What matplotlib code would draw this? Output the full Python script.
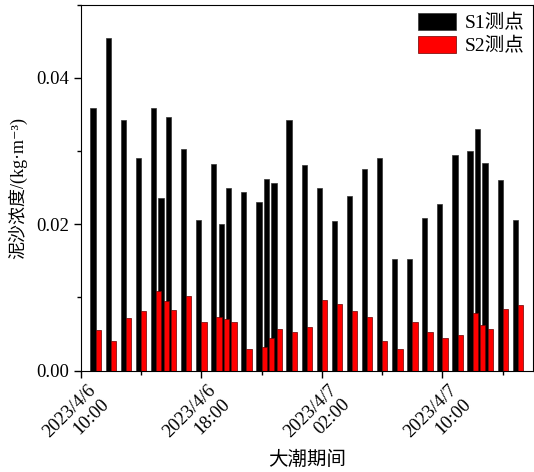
import pandas as pd
import numpy as np
import matplotlib
matplotlib.use('Agg')
import matplotlib.pyplot as plt
import matplotlib.dates as mdates
from matplotlib.ticker import MultipleLocator, FormatStrFormatter
from matplotlib.transforms import ScaledTranslation

plt.rcParams['font.family'] = ['Liberation Serif', 'Noto Sans CJK SC', 'DejaVu Serif']

# 采样时间
times = ['2023-04-06 11:00', '2023-04-06 12:00', '2023-04-06 13:00', '2023-04-06 14:00',
         '2023-04-06 15:00', '2023-04-06 15:30', '2023-04-06 16:00', '2023-04-06 17:00',
         '2023-04-06 18:00', '2023-04-06 19:00', '2023-04-06 19:30', '2023-04-06 20:00',
         '2023-04-06 21:00', '2023-04-06 22:00', '2023-04-06 22:30', '2023-04-06 23:00',
         '2023-04-07 00:00', '2023-04-07 01:00', '2023-04-07 02:00', '2023-04-07 03:00',
         '2023-04-07 04:00', '2023-04-07 05:00', '2023-04-07 06:00', '2023-04-07 07:00',
         '2023-04-07 08:00', '2023-04-07 09:00', '2023-04-07 10:00', '2023-04-07 11:00',
         '2023-04-07 12:00', '2023-04-07 12:30', '2023-04-07 13:00', '2023-04-07 14:00',
         '2023-04-07 15:00']

# S1 测点
s1 = [0.0359, 0.0454, 0.0342, 0.0290, 0.0359, 0.0236, 0.0346, 0.0303,
      0.0206, 0.0282, 0.0200, 0.0249, 0.0244, 0.0231, 0.0262, 0.0256,
      0.0342, 0.0281, 0.0250, 0.0204, 0.0238, 0.0276, 0.0290, 0.0153,
      0.0153, 0.0208, 0.0227, 0.0295, 0.0300, 0.0330, 0.0284, 0.0260,
      0.0206]

# S2 测点
s2 = [0.0055, 0.0041, 0.0072, 0.0081, 0.0109, 0.0095, 0.0083, 0.0102,
      0.0067, 0.0073, 0.0070, 0.0066, 0.0030, 0.0032, 0.0045, 0.0057,
      0.0052, 0.0059, 0.0096, 0.0091, 0.0082, 0.0073, 0.0040, 0.0030,
      0.0066, 0.0052, 0.0044, 0.0049, 0.0078, 0.0062, 0.0057, 0.0084,
      0.0090]

t = mdates.date2num(pd.to_datetime(times))
w = 0.35 / 24  # 柱宽 (天)

fig = plt.figure(figsize=(5.34, 4.72), dpi=100)
ax = fig.add_axes([0.151, 0.215, 0.847, 0.775])

ax.bar(t - w, s1, width=w, align='edge', color='black', edgecolor='#333333',
       linewidth=0.5, label='S1测点')
ax.bar(t, s2, width=w, align='edge', color='#ff0000', edgecolor='#6b0000',
       linewidth=0.5, label='S2测点')

ax.set_xlim(mdates.date2num(pd.Timestamp('2023-04-06 10:00')),
            mdates.date2num(pd.Timestamp('2023-04-07 16:00')))
ax.set_ylim(0, 0.05)

ax.xaxis.set_major_locator(mdates.HourLocator(byhour=[2, 10, 18]))
ax.xaxis.set_minor_locator(mdates.HourLocator(byhour=[6, 14, 22]))
ax.xaxis.set_major_formatter(mdates.DateFormatter('%Y/%-m/%-d\n%H:%M'))
ax.yaxis.set_major_locator(MultipleLocator(0.02))
ax.yaxis.set_minor_locator(MultipleLocator(0.01))
ax.yaxis.set_major_formatter(FormatStrFormatter('%.2f'))

ax.tick_params(which='major', length=5, width=1, labelsize=13.5, pad=3)
ax.tick_params(which='minor', length=3, width=1)

# x 轴标签斜放, 两行右对齐, 稍微右移
shift = ScaledTranslation(0.06, 0, fig.dpi_scale_trans)
for lab in ax.get_xticklabels():
    lab.set_rotation(45)
    lab.set_ha('right')
    lab.set_va('top')
    lab.set_rotation_mode('anchor')
    lab.set_multialignment('right')
    lab.set_transform(lab.get_transform() + shift)

ax.set_xlabel('大潮期间', fontsize=14, labelpad=-3)
ax.set_ylabel('泥沙浓度/(kg·m⁻³)', fontsize=13, labelpad=7)

ax.legend(loc='upper right', frameon=False, fontsize=14, handlelength=1.95,
          handleheight=0.95, labelspacing=0.2, handletextpad=0.45,
          borderaxespad=0.25, borderpad=0.2)

fig.savefig('out.png', dpi=100)
